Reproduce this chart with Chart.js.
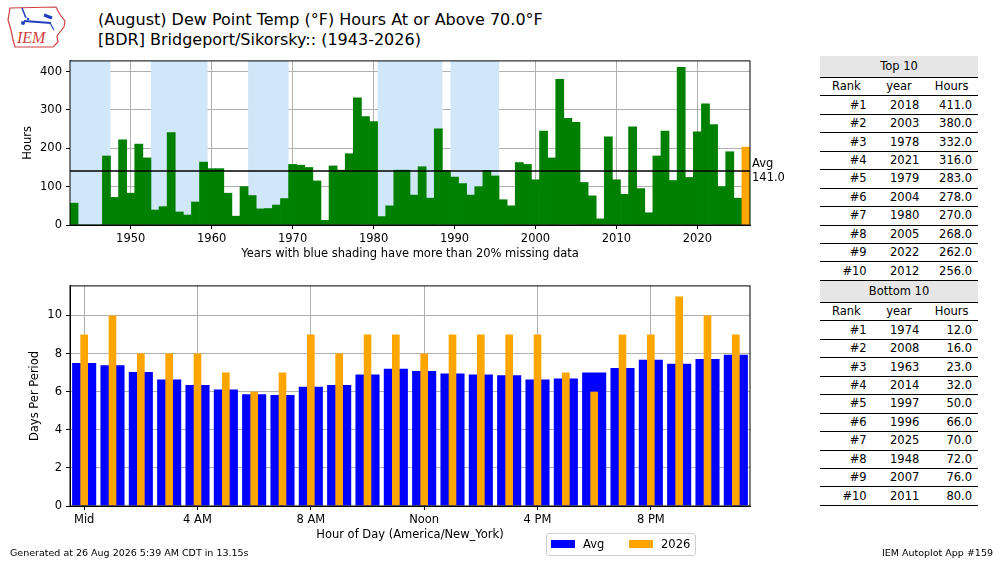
<!DOCTYPE html>
<html>
<head>
    <title>Dew Point Hours</title>
    <script src="https://cdn.jsdelivr.net/npm/chart.js"></script>
    <style type="text/css">
        body {
            margin: 0;
            width: 1000px;
            height: 562px;
            position: relative;
            background: #fff;
            font-family: "DejaVu Sans", sans-serif;
            color: #000;
            overflow: hidden;
        }
        .abs { position: absolute; }
        #title {
            left: 98px;
            top: 10px;
            font-size: 16px;
            line-height: 20px;
            white-space: nowrap;
        }
        #top-wrap { left: 0; top: 50px; width: 800px; height: 215px; }
        #bottom-wrap { left: 0; top: 275px; width: 800px; height: 271px; }
        table.rank {
            position: absolute;
            left: 820px;
            width: 158px;
            border-collapse: collapse;
            font-size: 11.5px;
            line-height: 13px;
            table-layout: fixed;
        }
        table.rank td, table.rank th {
            padding: 0 6px;
            height: 17.45px;
            font-weight: normal;
            border-top: 1.5px solid #000;
        }
        table.rank td { text-align: right; }
        table.rank th { text-align: center; }
        table.rank th.head {
            background: #e6e6e6;
            border-top: none;
            height: 21px;
        }
        table.rank tr:last-child td { border-bottom: 1.5px solid #000; }
        #legend {
            left: 546px;
            top: 533px;
            width: 148px;
            height: 21px;
            border: 1px solid #d0d0d0;
            border-radius: 3px;
            font-size: 11.5px;
        }
        .patch { position: absolute; top: 6px; width: 24px; height: 8px; }
        .ltext { position: absolute; top: 3px; }
        .foot { font-size: 9.5px; top: 547px; white-space: nowrap; }
    </style>
</head>
<body>
    <svg class="abs" style="left:4px;top:2px" width="66" height="48" viewBox="0 0 66 48">
        <polygon points="6,6 52,5 54,9 57,14 61,19 60,25 56,30 53,34 54,40 49,45 11,45 9,38 7,28 4,18"
                 fill="none" stroke="#d04040" stroke-width="1.2"/>
        <line x1="18" y1="6" x2="22" y2="16" stroke="#2040c0" stroke-width="1.5"/>
        <line x1="20" y1="19" x2="47" y2="21" stroke="#2040c0" stroke-width="2"/>
        <line x1="40" y1="13" x2="48" y2="16" stroke="#2040c0" stroke-width="3"/>
        <line x1="46" y1="21" x2="50" y2="28" stroke="#2040c0" stroke-width="1.2"/>
        <circle cx="19" cy="21" r="2" fill="#2040c0"/>
        <circle cx="24" cy="17" r="1.2" fill="#2040c0"/>
        <text x="13" y="41" font-family="Liberation Serif" font-style="italic" font-size="16" fill="#d04040">IEM</text>
    </svg>

    <div id="title" class="abs">(August) Dew Point Temp (°F) Hours At or Above 70.0°F<br>[BDR] Bridgeport/Sikorsky:: (1943-2026)</div>

    <div id="top-wrap" class="abs"><canvas id="top-chart"></canvas></div>
    <div id="bottom-wrap" class="abs"><canvas id="bottom-chart"></canvas></div>

    <table class="rank" id="top-table" style="top:56px"></table>
    <table class="rank" id="bottom-table" style="top:281px"></table>

    <div id="legend" class="abs">
        <div class="patch" style="left:4px;background:#0000ff"></div>
        <div class="ltext" style="left:36px">Avg</div>
        <div class="patch" style="left:82px;background:#ffa500"></div>
        <div class="ltext" style="left:114px">2026</div>
    </div>

    <div class="abs foot" style="left:10px">Generated at 26 Aug 2026 5:39 AM CDT in 13.15s</div>
    <div class="abs foot" style="left:882px">IEM Autoplot App #159</div>

    <script type="text/javascript">
        // yearly hours at or above 70F dew point, 1943-2026
        const years = [];
        for (let y = 1943; y <= 2026; y++) years.push(y);
        const hours = [
            57, 0, 0, 0, 180, 72, 222, 83, 211, 175,
            39, 48, 241, 34, 26, 60, 164, 147, 147, 83,
            23, 100, 77, 42, 43, 52, 69, 158, 156, 150,
            115, 12, 154, 143, 186, 332, 283, 270, 22, 50,
            143, 143, 78, 152, 70, 251, 142, 125, 108, 78,
            100, 142, 128, 66, 50, 163, 158, 118, 245, 175,
            380, 278, 268, 111, 76, 16, 230, 118, 80, 256,
            95, 32, 180, 245, 116, 411, 124, 243, 316, 262,
            100, 191, 70, 203
        ];
        const avgHours = 141.0;
        const currentYear = 2026;
        const hourAxisTicks = [0, 100, 200, 300, 400];
        // periods with more than 20% missing data
        const missingStart = [1943, 1953, 1965, 1981, 1990];
        const missingEnd = [1947, 1959, 1969, 1988, 1995];

        // hourly days per period
        const hourCats = [0, 1, 2, 3, 4, 5, 6, 7, 8, 9, 10, 11, 12, 13, 14, 15, 16, 17, 18, 19, 20, 21, 22, 23];
        const hourTicks = {0: 'Mid', 4: '4 AM', 8: '8 AM', 12: 'Noon', 16: '4 PM', 20: '8 PM'};
        const dayAxisTicks = [0, 2, 4, 6, 8, 10];
        const avgDays = [7.50, 7.38, 7.03, 6.64, 6.35, 6.12, 5.87, 5.83, 6.26, 6.35, 6.90, 7.20,
                         7.08, 6.95, 6.90, 6.86, 6.64, 6.69, 7.00, 7.24, 7.67, 7.46, 7.72, 7.94];
        const days2026 = [9, 10, 8, 8, 8, 7, 6, 7, 9, 8, 9, 9,
                          8, 9, 9, 9, 9, 7, 6, 9, 9, 11, 10, 9];

        // rankings
        const topRanks = ['#1', '#2', '#3', '#4', '#5', '#6', '#7', '#8', '#9', '#10'];
        const topYears = [2018, 2003, 1978, 2021, 1979, 2004, 1980, 2005, 2022, 2012];
        const topHours = [411.0, 380.0, 332.0, 316.0, 283.0, 278.0, 270.0, 268.0, 262.0, 256.0];
        const bottomYears = [1974, 2008, 1963, 2014, 1997, 1996, 2025, 1948, 2007, 2011];
        const bottomHours = [12.0, 16.0, 23.0, 32.0, 50.0, 66.0, 70.0, 72.0, 76.0, 80.0];

        function fillTable(id, title, yrs, vals) {
            let html = '<tr><th class="head" colspan="3">' + title + '</th></tr>';
            html += '<tr><th>Rank</th><th>year</th><th>Hours</th></tr>';
            for (let i = 0; i < yrs.length; i++) {
                html += '<tr><td>' + topRanks[i] + '</td><td>' + yrs[i] + '</td><td>' + vals[i].toFixed(1) + '</td></tr>';
            }
            document.getElementById(id).innerHTML = html;
        }
        fillTable('top-table', 'Top 10', topYears, topHours);
        fillTable('bottom-table', 'Bottom 10', bottomYears, bottomHours);

        Chart.defaults.font.family = 'DejaVu Sans';
        Chart.defaults.font.size = 11.5;
        Chart.defaults.color = '#000';
        Chart.defaults.animation = false;

        const GRID = '#b0b0b0';

        // full black frame around plot area
        const framePlugin = {
            id: 'frame',
            afterDraw(chart) {
                const a = chart.chartArea, ctx = chart.ctx;
                ctx.save();
                ctx.strokeStyle = '#000';
                ctx.lineWidth = 1;
                ctx.strokeRect(a.left, a.top, a.right - a.left, a.bottom - a.top);
                ctx.restore();
            }
        };

        const shadePlugin = {
            id: 'shade',
            beforeDatasetsDraw(chart) {
                const x = chart.scales.x, a = chart.chartArea, ctx = chart.ctx;
                const half = (x.getPixelForValue(1) - x.getPixelForValue(0)) / 2;
                ctx.save();
                ctx.fillStyle = '#cfe7f9';
                for (let i = 0; i < missingStart.length; i++) {
                    const x1 = x.getPixelForValue(years.indexOf(missingStart[i])) - half;
                    const x2 = x.getPixelForValue(years.indexOf(missingEnd[i])) + half;
                    ctx.fillRect(x1, a.top, x2 - x1, a.bottom - a.top);
                }
                ctx.restore();
            }
        };

        const avgPlugin = {
            id: 'avgline',
            afterDraw(chart) {
                const y = chart.scales.y.getPixelForValue(avgHours), a = chart.chartArea, ctx = chart.ctx;
                ctx.save();
                ctx.strokeStyle = '#000';
                ctx.lineWidth = 1.5;
                ctx.beginPath();
                ctx.moveTo(a.left, y);
                ctx.lineTo(a.right, y);
                ctx.stroke();
                ctx.fillStyle = '#000';
                ctx.font = '11.5px "DejaVu Sans"';
                ctx.textBaseline = 'middle';
                ctx.fillText('Avg', a.right + 2, y - 7);
                ctx.fillText(avgHours.toFixed(1), a.right + 2, y + 7);
                ctx.restore();
            }
        };

        new Chart(document.getElementById('top-chart'), {
            type: 'bar',
            data: {
                labels: years,
                datasets: [{
                    data: hours,
                    backgroundColor: years.map(y => y === currentYear ? '#ffa500' : '#008000'),
                    categoryPercentage: 1,
                    barPercentage: 1
                }]
            },
            options: {
                responsive: true,
                maintainAspectRatio: false,
                layout: { padding: { top: 7, right: 50, left: 0, bottom: 0 } },
                plugins: { legend: { display: false }, tooltip: { enabled: false } },
                scales: {
                    x: {
                        z: 1,
                        grid: {
                            offset: false,
                            color: ctx => (years[ctx.index] % 10 === 0 ? GRID : 'transparent'),
                            tickColor: ctx => (years[ctx.index] % 10 === 0 ? '#000' : 'transparent'),
                            tickLength: 4
                        },
                        border: { color: '#000' },
                        ticks: {
                            autoSkip: false,
                            maxRotation: 0,
                            padding: 3,
                            callback: (v, i) => (years[i] % 10 === 0 ? String(years[i]) : '')
                        },
                        title: {
                            display: true,
                            text: 'Years with blue shading have more than 20% missing data',
                            padding: { top: 0, bottom: 4 }
                        },
                        afterFit: s => { s.height = 40; }
                    },
                    y: {
                        z: 1,
                        min: 0,
                        max: 428,
                        grid: { color: GRID, tickColor: '#000', tickLength: 4 },
                        border: { color: '#000' },
                        ticks: { padding: 4, autoSkip: false },
                        afterBuildTicks: s => { s.ticks = hourAxisTicks.map(v => ({ value: v })); },
                        title: { display: true, text: 'Hours', padding: { top: 21, bottom: 0 } },
                        afterFit: s => { s.width = 70; }
                    }
                }
            },
            plugins: [shadePlugin, avgPlugin, framePlugin]
        });

        new Chart(document.getElementById('bottom-chart'), {
            type: 'bar',
            data: {
                labels: hourCats,
                datasets: [{
                    label: 'Avg',
                    data: avgDays,
                    backgroundColor: '#0000ff',
                    categoryPercentage: 1,
                    barPercentage: 0.85,
                    grouped: false,
                    order: 1
                }, {
                    label: '2026',
                    data: days2026,
                    backgroundColor: '#ffa500',
                    categoryPercentage: 1,
                    barPercentage: 0.27,
                    grouped: false,
                    order: 0
                }]
            },
            options: {
                responsive: true,
                maintainAspectRatio: false,
                layout: { padding: { top: 7, right: 50, left: 0, bottom: 0 } },
                plugins: { legend: { display: false }, tooltip: { enabled: false } },
                scales: {
                    x: {
                        z: 1,
                        grid: {
                            offset: false,
                            color: ctx => (hourTicks[hourCats[ctx.index]] ? GRID : 'transparent'),
                            tickColor: ctx => (hourTicks[hourCats[ctx.index]] ? '#000' : 'transparent'),
                            tickLength: 4
                        },
                        border: { color: '#000' },
                        ticks: {
                            autoSkip: false,
                            maxRotation: 0,
                            padding: 3,
                            callback: (v, i) => hourTicks[hourCats[i]] || ''
                        },
                        title: {
                            display: true,
                            text: 'Hour of Day (America/New_York)',
                            padding: { top: 0, bottom: 4 }
                        },
                        afterFit: s => { s.height = 40; }
                    },
                    y: {
                        z: 1,
                        min: 0,
                        max: 11.55,
                        grid: { color: GRID, tickColor: '#000', tickLength: 4 },
                        border: { color: '#000' },
                        ticks: { padding: 4, autoSkip: false },
                        afterBuildTicks: s => { s.ticks = dayAxisTicks.map(v => ({ value: v })); },
                        title: { display: true, text: 'Days Per Period', padding: { top: 28, bottom: 0 } },
                        afterFit: s => { s.width = 70; }
                    }
                }
            },
            plugins: [framePlugin]
        });
    </script>
</body>
</html>
